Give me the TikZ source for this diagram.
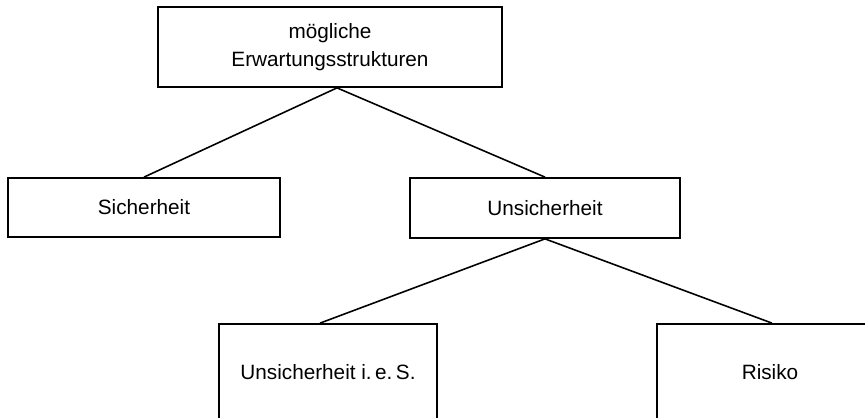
\documentclass[tikz,border=0pt]{standalone}
\usepackage{fontspec}
\setmainfont{Liberation Sans}
\usetikzlibrary{positioning}

\begin{document}
\begin{tikzpicture}[x=0.02cm,y=-0.02cm,
  box/.style={draw=black,line width=1pt,fill=white,align=center,inner sep=0pt,
    font=\fontsize{11.8}{16}\selectfont},
  con/.style={line width=0.9pt,draw=black}]
\useasboundingbox (0,0) rectangle (865,418);
\node[box,minimum width=6.88cm,minimum height=1.6cm] (mog) at (330,47) {mögliche\\Erwartungsstrukturen};
\node[box,minimum width=5.44cm,minimum height=1.18cm] (sich) at (144,207.5) {Sicherheit};
\node[box,minimum width=5.4cm,minimum height=1.2cm] (unsich) at (545,208) {Unsicherheit};
\node[box,minimum width=4.36cm,minimum height=1.92cm] (ies) at (328,372) {Unsicherheit i.\,e.\,S.};
\node[box,minimum width=4.52cm,minimum height=1.92cm] (risk) at (770,372) {Risiko};
\draw[con] ([xshift=0.14cm]mog.south) -- (sich.north);
\draw[con] ([xshift=0.14cm]mog.south) -- (unsich.north);
\draw[con] (unsich.south) -- ([xshift=-0.16cm]ies.north);
\draw[con] (unsich.south) -- ([xshift=0.04cm]risk.north);
\end{tikzpicture}
\end{document}
